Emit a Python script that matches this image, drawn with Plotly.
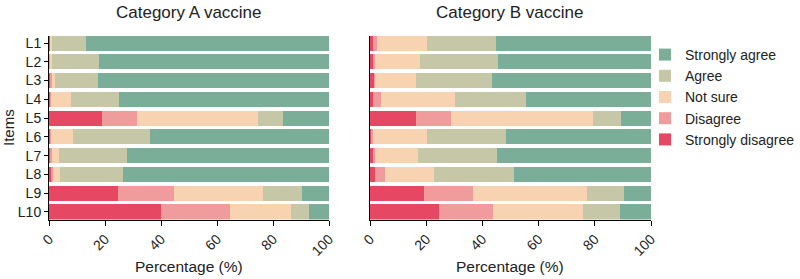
import plotly.graph_objects as go

items = ["L1", "L2", "L3", "L4", "L5", "L6", "L7", "L8", "L9", "L10"]
categories = ["Strongly disagree", "Disagree", "Not sure", "Agree", "Strongly agree"]
colors = ["#E64864", "#F09C9C", "#F8D3B2", "#C5C7A6", "#7BAE98"]

# Category A vaccine (%)
a_strongly_disagree = [0.5, 0.3, 0.6, 0.5, 18.9, 0.5, 0.6, 1.0, 24.6, 40.0]
a_disagree = [0.0, 0.2, 0.3, 0.3, 12.4, 0.3, 0.6, 0.6, 20.2, 24.6]
a_not_sure = [0.5, 0.7, 1.4, 7.0, 43.2, 7.7, 2.4, 2.3, 31.7, 21.7]
a_agree = [12.2, 16.7, 15.3, 17.3, 9.2, 27.7, 24.1, 22.4, 13.9, 6.4]
a_strongly_agree = [86.8, 82.1, 82.4, 74.9, 16.3, 63.8, 72.3, 73.7, 9.6, 7.3]

# Category B vaccine (%)
b_strongly_disagree = [1.2, 1.2, 1.7, 1.2, 16.5, 0.7, 1.2, 1.9, 19.2, 24.7]
b_disagree = [1.4, 0.7, 0.2, 2.7, 12.3, 0.3, 0.7, 3.4, 17.3, 19.2]
b_not_sure = [17.8, 15.9, 14.5, 26.5, 50.7, 19.4, 15.1, 17.4, 40.6, 31.8]
b_agree = [24.4, 27.6, 27.0, 25.0, 9.8, 28.0, 28.3, 28.5, 13.4, 13.3]
b_strongly_agree = [55.2, 54.6, 56.6, 44.6, 10.7, 51.6, 54.7, 48.8, 9.5, 11.0]

x_ticks = [0, 20, 40, 60, 80, 100]

a_series = [a_strongly_disagree, a_disagree, a_not_sure, a_agree, a_strongly_agree]
b_series = [b_strongly_disagree, b_disagree, b_not_sure, b_agree, b_strongly_agree]

FONT = "Liberation Sans, Arial, sans-serif"
TXT = "#222"

W, H = 800, 279

def fx(px):
    return px / W

def fy(py):
    return 1 - py / H

fig = go.Figure()
for name, col, vals in zip(categories, colors, a_series):
    fig.add_trace(go.Bar(x=vals, y=items, orientation="h", name=name,
                         marker=dict(color=col, line=dict(width=0)),
                         xaxis="x", yaxis="y", legendgroup=name, showlegend=True))
for name, col, vals in zip(categories, colors, b_series):
    fig.add_trace(go.Bar(x=vals, y=items, orientation="h", name=name,
                         marker=dict(color=col, line=dict(width=0)),
                         xaxis="x2", yaxis="y2", legendgroup=name, showlegend=False))

ydom = [fy(219.5), fy(35.5)]
xcommon = dict(range=[0, 100], tickvals=x_ticks, ticks="outside", ticklen=5,
               tickcolor="black", tickwidth=1, showline=True, linecolor="black",
               linewidth=1, showgrid=False, zeroline=False, tickangle=-45,
               tickfont=dict(size=14, color=TXT), automargin=False)
ycommon = dict(range=[9.4, -0.4], showline=True, linecolor="black", linewidth=1,
               showgrid=False, zeroline=False, domain=ydom, automargin=False)

def pa(text, x, y, size, angle=0):
    return dict(text=text, x=fx(x), y=fy(y), xref="paper", yref="paper",
                showarrow=False, font=dict(size=size, color=TXT), textangle=angle,
                xanchor="center", yanchor="middle")

fig.update_layout(
    width=W, height=H,
    margin=dict(l=0, r=0, t=0, b=0),
    paper_bgcolor="white", plot_bgcolor="white",
    barmode="stack", bargap=0.2,
    font=dict(family=FONT, color=TXT),
    xaxis=dict(domain=[fx(49), fx(329)], anchor="y", **xcommon),
    xaxis2=dict(domain=[fx(370), fx(651)], anchor="y2", **xcommon),
    yaxis=dict(anchor="x", ticks="outside", ticklen=4, tickcolor="black",
               tickfont=dict(size=14, color=TXT), **ycommon),
    yaxis2=dict(anchor="x2", showticklabels=False, ticks="", **ycommon),
    legend=dict(x=fx(645), y=fy(39), xanchor="left", yanchor="top",
                traceorder="reversed", font=dict(size=14, color=TXT),
                bgcolor="rgba(0,0,0,0)", itemwidth=30),
    annotations=[
        pa("Category A vaccine", 189, 13, 17),
        pa("Category B vaccine", 510, 13, 17),
        pa("Percentage (%)", 189, 266, 15.5),
        pa("Percentage (%)", 510, 266, 15.5),
        pa("Items", 8, 128, 15, -90),
    ],
)

fig.write_html("out.html", config={"displayModeBar": False},
               post_script="document.body.style.margin='0';document.body.style.padding='0';")
